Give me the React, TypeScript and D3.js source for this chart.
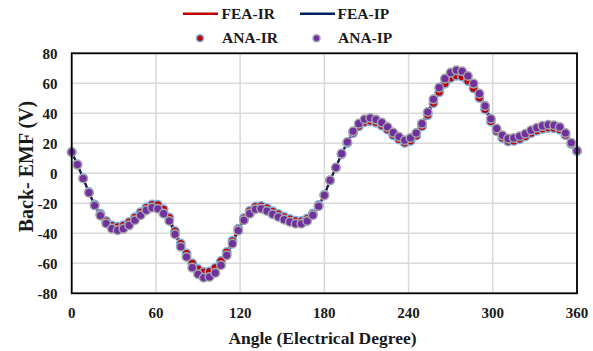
import React from "react";
import * as d3 from "d3";

const STEP = 360 / 88;
const ipValues = [14.2, 5.8, -3.5, -12.9, -21.5, -28.2, -33.5, -36.9, -38.0, -36.9,
  -34.7, -31.3, -28.0, -24.7, -22.9, -23.6, -26.9, -31.8, -40.7, -49.0,
  -55.8, -62.9, -67.3, -69.6, -69.1, -66.4, -61.3, -54.7, -46.9, -38.2,
  -31.3, -26.9, -24.0, -23.6, -25.1, -27.3, -29.1, -30.9, -32.4, -33.6,
  -33.6, -31.8, -28.0, -22.0, -14.7, -4.7, 3.8, 13.1, 20.9, 28.0,
  33.1, 36.0, 36.9, 35.8, 33.8, 30.9, 27.1, 24.4, 22.0, 23.5,
  26.9, 33.1, 40.9, 49.3, 57.1, 63.1, 67.1, 68.7, 68.0, 64.9,
  59.8, 53.1, 44.9, 36.4, 29.8, 25.3, 23.1, 23.5, 24.7, 26.4,
  28.7, 30.4, 31.6, 32.4, 32.0, 30.9, 26.9, 20.4, 15.0];
const irValues = [14.0, 5.8, -3.3, -12.5, -20.8, -27.0, -31.8, -34.8, -35.6, -34.6,
  -32.5, -29.3, -26.0, -22.8, -20.8, -21.0, -24.0, -29.5, -38.5, -46.8,
  -53.5, -60.0, -63.8, -65.8, -65.5, -63.0, -58.5, -52.5, -45.0, -37.0,
  -29.8, -25.0, -22.2, -21.8, -23.2, -25.3, -27.2, -29.0, -30.5, -31.7,
  -31.8, -30.2, -26.8, -21.2, -14.3, -4.6, 3.7, 12.7, 20.2, 26.8,
  31.3, 34.0, 34.8, 33.8, 31.8, 29.0, 25.3, 22.6, 20.3, 21.6,
  25.0, 31.2, 38.8, 46.8, 54.0, 59.8, 63.5, 65.0, 64.4, 61.5,
  56.6, 50.3, 42.5, 34.5, 28.0, 23.5, 21.3, 21.6, 22.8, 24.5,
  26.7, 28.4, 29.6, 30.3, 30.0, 29.0, 25.4, 19.6, 14.8];
const angles = ipValues.map((_, i) => i * STEP);
const xTicks = [0, 60, 120, 180, 240, 300, 360];
const yTicks = [-80, -60, -40, -20, 0, 20, 40, 60, 80];

const W = 593, H = 351;
const L = 71.7, R = 577, T = 53.3, B = 293.3;
const FONT = "Liberation Serif, Times New Roman, DejaVu Serif, serif";

export default function App() {
  const x = d3.scaleLinear().domain([0, 360]).range([L, R]);
  const y = d3.scaleLinear().domain([-80, 80]).range([B, T]);
  const line = (vals: number[]) =>
    d3.line<number>().x((_, i) => x(angles[i])).y((v) => y(v))(vals) || "";
  const ts = { fontFamily: FONT, fontWeight: 700 } as React.CSSProperties;
  const tc = "#1a1a1a";
  return (
    <svg width={W} height={H} style={{ position: "absolute", left: 0, top: 0, fontFamily: FONT, fontWeight: 700 }}>
      <rect x={0} y={0} width={W} height={H} fill="#fff" />
      {yTicks.map((t) => (
        <line key={"gy" + t} x1={L} x2={R} y1={y(t)} y2={y(t)} stroke="#d9d9d9" strokeWidth={1.5} />
      ))}
      {xTicks.map((t) => (
        <line key={"gx" + t} x1={x(t)} x2={x(t)} y1={T} y2={B} stroke="#d9d9d9" strokeWidth={1.5} />
      ))}
      <path d={line(irValues)} fill="none" stroke="#c00000" strokeWidth={2} />
      <path d={line(ipValues)} fill="none" stroke="#002060" strokeWidth={2} />
      {irValues.map((v, i) => (
        <circle key={"ir" + i} cx={x(angles[i])} cy={y(v)} r={4.3} fill="#c00000" stroke="#7fb3e6" strokeWidth={1.5} />
      ))}
      {ipValues.map((v, i) => (
        <circle key={"ip" + i} cx={x(angles[i])} cy={y(v)} r={4.3} fill="#7030a0" stroke="#a6a6a6" strokeWidth={1.5} />
      ))}
      <rect x={L} y={T} width={R - L} height={B - T} fill="none" stroke="#000" strokeWidth={1.8} />
      {yTicks.map((t) => (
        <text key={"ty" + t} style={ts} x={57.5} y={y(t)} dy="0.35em" textAnchor="end" fontSize={15} fill={tc}>{t}</text>
      ))}
      {xTicks.map((t) => (
        <text key={"tx" + t} style={ts} x={x(t)} y={318.3} textAnchor="middle" fontSize={15} fill={tc}>{t}</text>
      ))}
      <text style={ts} x={322.5} y={344} textAnchor="middle" fontSize={17.5} fill={tc}>Angle (Electrical Degree)</text>
      <text style={ts} transform={`translate(32.5,166.5) rotate(-90)`} textAnchor="middle" fontSize={20} fill={tc}>Back- EMF (V)</text>
      <line x1={183} x2={218} y1={13.7} y2={13.7} stroke="#c00000" strokeWidth={2.5} />
      <text style={ts} x={221.5} y={19.3} fontSize={15.5} fill={tc}>FEA-IR</text>
      <line x1={300} x2={335} y1={13.7} y2={13.7} stroke="#002060" strokeWidth={2.5} />
      <text style={ts} x={337.5} y={19.3} fontSize={15.5} fill={tc}>FEA-IP</text>
      <circle cx={200} cy={38.3} r={3.5} fill="#c00000" stroke="#7fb3e6" strokeWidth={1.5} />
      <text style={ts} x={222} y={43.3} fontSize={15.5} fill={tc}>ANA-IR</text>
      <circle cx={316.5} cy={38.3} r={3.5} fill="#7030a0" stroke="#a6a6a6" strokeWidth={1.5} />
      <text style={ts} x={338} y={43.3} fontSize={15.5} fill={tc}>ANA-IP</text>
    </svg>
  );
}
